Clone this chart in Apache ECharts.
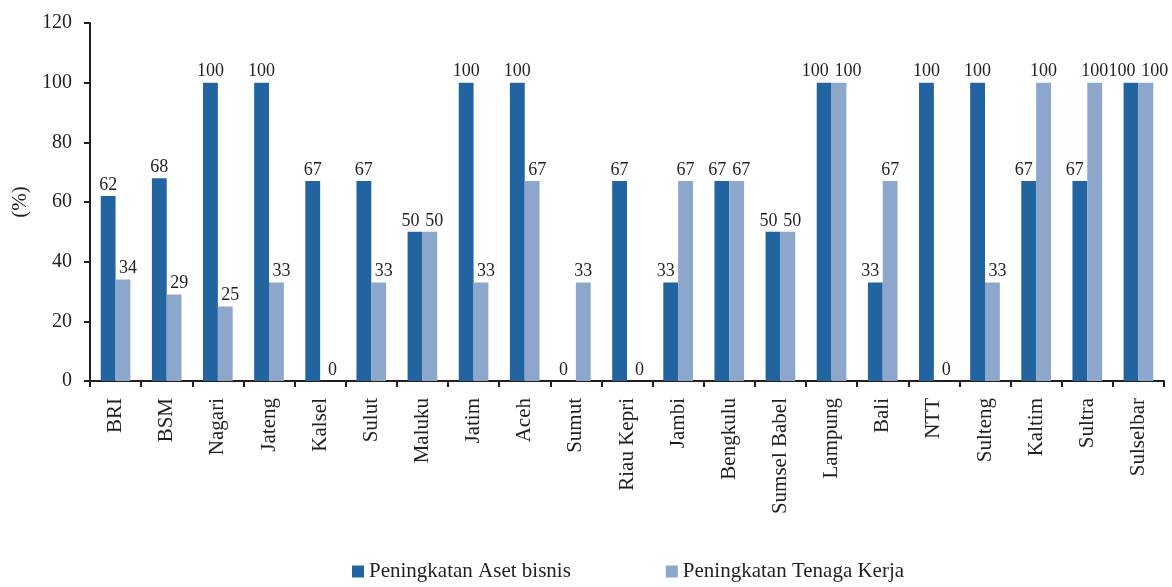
<!DOCTYPE html>
<html><head><meta charset="utf-8">
<script src="https://cdn.jsdelivr.net/npm/echarts@6/dist/echarts.min.js"></script>
<style>html,body{margin:0;padding:0;background:#fff}#c{width:1172px;height:587px}</style>
</head><body><div id="c"></div>
<script>
const categories = ["BRI","BSM","Nagari","Jateng","Kalsel","Sulut","Maluku","Jatim","Aceh","Sumut","Riau Kepri","Jambi","Bengkulu","Sumsel Babel","Lampung","Bali","NTT","Sulteng","Kaltim","Sultra","Sulselbar"];
const asetBisnis = [62,68,100,100,67,67,50,100,100,0,67,33,67,50,100,33,100,100,67,67,100];
const tenagaKerja = [34,29,25,33,0,33,50,33,67,33,0,67,67,50,100,67,0,33,100,100,100];
const seriesNames = ["Peningkatan Aset bisnis","Peningkatan Tenaga Kerja"];
const yTicks = {min:0,max:120,interval:20};

const font = "'Liberation Serif','Times New Roman',serif";
const txt = '#231f20';
// label nudging (like the original) so labels do not run into the neighbouring bar
function shift(own, other, dir){
  const w = String(own).length * 9;
  if (own === other) return dir * ((w + 4 - 15) / 2 + 1);
  if (other > own) return dir * 5;
  return 0;
}
function mk(vals, others, dir){
  return vals.map((v,i)=>({value:v,label:{offset:[shift(v,others[i],dir),0]}}));
}
const lbl = {show:true,position:'top',distance:2,color:txt,fontFamily:font,fontSize:18};
const chart = echarts.init(document.getElementById('c'));
chart.setOption({
  animation:false,
  grid:{left:90,right:8,top:23,bottom:206,containLabel:false},
  legend:{bottom:0,left:347,itemWidth:12,itemHeight:12,itemGap:95,icon:'rect',
    textStyle:{fontFamily:font,fontSize:21,color:txt},data:seriesNames},
  xAxis:{type:'category',data:categories,
    axisLine:{lineStyle:{color:txt,width:2}},
    axisTick:{show:true,length:6,lineStyle:{color:txt,width:2}},
    axisLabel:{rotate:90,interval:0,fontFamily:font,fontSize:21,color:txt,margin:17}},
  yAxis:{type:'value',min:yTicks.min,max:yTicks.max,interval:yTicks.interval,
    name:'(%)',nameLocation:'middle',nameGap:58,nameRotate:90,
    nameTextStyle:{fontFamily:font,fontSize:21,color:txt},
    axisLine:{show:true,lineStyle:{color:txt,width:2}},
    axisTick:{show:true,length:6,lineStyle:{color:txt,width:2}},
    splitLine:{show:false},
    axisLabel:{fontFamily:font,fontSize:20,color:txt,margin:18}},
  series:[
    {name:seriesNames[0],type:'bar',data:mk(asetBisnis,tenagaKerja,-1),barGap:'0%',barCategoryGap:'42%',
      itemStyle:{color:'#21649f'},label:lbl},
    {name:seriesNames[1],type:'bar',data:mk(tenagaKerja,asetBisnis,1),barGap:'0%',barCategoryGap:'42%',
      itemStyle:{color:'#8da6cb'},label:lbl}
  ]
});
</script></body></html>
